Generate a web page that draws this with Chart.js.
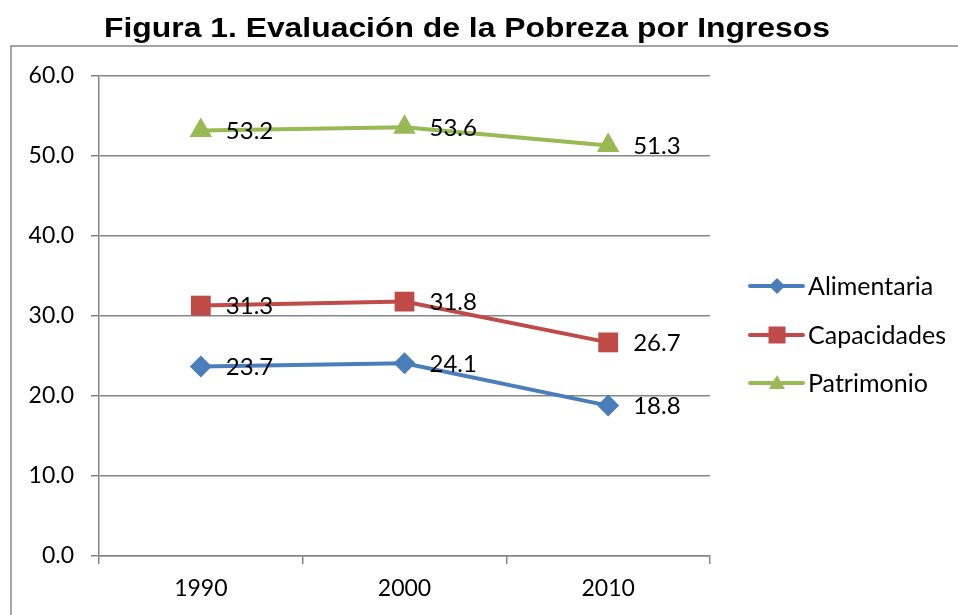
<!DOCTYPE html>
<html>
<head>
<meta charset="utf-8">
<script src="https://cdn.jsdelivr.net/npm/chart.js@4.4.1/dist/chart.umd.min.js"></script>
<style>
    html, body { margin: 0; padding: 0; background: #fff; }
    #wrap { width: 958px; height: 615px; }
</style>
</head>
<body>
<div id="wrap"><canvas id="chart" width="958" height="615"></canvas></div>
<script>
const years = ['1990', '2000', '2010'];
const alimentaria = [23.7, 24.1, 18.8];
const capacidades = [31.3, 31.8, 26.7];
const patrimonio = [53.2, 53.6, 51.3];
const seriesNames = ['Alimentaria', 'Capacidades', 'Patrimonio'];
const titleText = 'Figura 1. Evaluación de la Pobreza por Ingresos';

const FONT = 'Lato';
const GRAY = '#868686';

// Frame + title, Excel-style
const framePlugin = {
    id: 'frame',
    beforeDraw(chart) {
        const ctx = chart.ctx;
        ctx.save();
        ctx.strokeStyle = GRAY;
        ctx.lineWidth = 1.5;
        ctx.beginPath();
        ctx.moveTo(11, chart.height + 5);
        ctx.lineTo(11, 46);
        ctx.lineTo(chart.width + 5, 46);
        ctx.stroke();
        ctx.fillStyle = '#000';
        ctx.font = 'bold 28px "Liberation Sans", Arial, sans-serif';
        ctx.textAlign = 'center';
        ctx.textBaseline = 'alphabetic';
        // stretch to the reference title width
        const w = ctx.measureText(titleText).width;
        ctx.translate(467, 37);
        ctx.scale(726 / w, 1);
        ctx.fillText(titleText, 0, 0);
        ctx.restore();
    }
};

// Value labels to the right of each point
const valueLabels = {
    id: 'valueLabels',
    afterDatasetsDraw(chart) {
        const ctx = chart.ctx;
        ctx.save();
        ctx.font = '24px ' + FONT;
        ctx.fillStyle = '#000';
        ctx.textAlign = 'left';
        ctx.textBaseline = 'middle';
        chart.data.datasets.forEach((ds, i) => {
            chart.getDatasetMeta(i).data.forEach((pt, j) => {
                ctx.fillText(ds.data[j].toFixed(1), pt.x + 25, pt.y + 1);
            });
        });
        ctx.restore();
    }
};

function drawMarker(ctx, style, x, y, r, color) {
    ctx.fillStyle = color;
    ctx.beginPath();
    if (style === 'rectRot') {
        ctx.moveTo(x - r, y);
        ctx.lineTo(x, y - r);
        ctx.lineTo(x + r, y);
        ctx.lineTo(x, y + r);
    } else if (style === 'rect') {
        ctx.rect(x - r, y - r, 2 * r, 2 * r);
    } else {
        ctx.moveTo(x, y - r);
        ctx.lineTo(x + r, y + r * 0.75);
        ctx.lineTo(x - r, y + r * 0.75);
    }
    ctx.closePath();
    ctx.fill();
}

// Legend at the right: line with marker, then the name
const sideLegend = {
    id: 'sideLegend',
    afterDraw(chart) {
        const ctx = chart.ctx;
        const x0 = chart.chartArea.right + 40;
        const rows = [286, 335, 383];
        ctx.save();
        chart.data.datasets.forEach((ds, i) => {
            const y = rows[i];
            ctx.strokeStyle = ds.borderColor;
            ctx.lineWidth = 4;
            ctx.lineCap = 'round';
            ctx.beginPath();
            ctx.moveTo(x0, y);
            ctx.lineTo(x0 + 53, y);
            ctx.stroke();
            const r = ds.pointStyle === 'rect' ? 8.5 : 8;
            drawMarker(ctx, ds.pointStyle, x0 + 27, y, r, ds.pointBackgroundColor);
            ctx.fillStyle = '#000';
            ctx.font = '25px ' + FONT;
            ctx.textAlign = 'left';
            ctx.textBaseline = 'middle';
            ctx.fillText(ds.label, x0 + 58, y + 1);
        });
        ctx.restore();
    }
};

function series(label, data, color, style, radius) {
    return {
        label: label,
        data: data,
        borderColor: color,
        backgroundColor: color,
        pointBackgroundColor: color,
        pointBorderColor: color,
        borderWidth: 4,
        pointStyle: style,
        pointRadius: radius,
        pointHoverRadius: radius,
        pointBorderWidth: 0,
        tension: 0
    };
}

const ctx = document.getElementById('chart').getContext('2d');
new Chart(ctx, {
    type: 'line',
    data: {
        labels: years,
        datasets: [
            series(seriesNames[0], alimentaria, '#4A7EBB', 'rectRot', 11),
            series(seriesNames[1], capacidades, '#BE4B48', 'rect', 14),
            series(seriesNames[2], patrimonio, '#98B954', 'triangle', 13)
        ]
    },
    options: {
        responsive: false,
        animation: false,
        layout: { padding: { left: 0, top: 76, right: 248, bottom: 0 } },
        plugins: {
            legend: { display: false },
            title: { display: false },
            tooltip: { enabled: false }
        },
        scales: {
            x: {
                offset: true,
                grid: {
                    offset: true,
                    drawOnChartArea: false,
                    drawTicks: true,
                    tickLength: 8,
                    color: GRAY,
                    lineWidth: 1.5
                },
                border: { color: GRAY, width: 1.5 },
                ticks: {
                    font: { family: FONT, size: 23 },
                    color: '#000',
                    padding: 11
                },
                afterFit(scale) { scale.height = 59; }
            },
            y: {
                min: 0,
                max: 60,
                ticks: {
                    stepSize: 10,
                    font: { family: FONT, size: 23 },
                    color: '#000',
                    padding: 17,
                    callback: v => v.toFixed(1)
                },
                grid: {
                    color: GRAY,
                    lineWidth: 1.5,
                    tickLength: 8
                },
                border: { color: GRAY, width: 1.5 },
                afterFit(scale) { scale.width = 99; }
            }
        }
    },
    plugins: [framePlugin, valueLabels, sideLegend]
});
</script>
</body>
</html>
